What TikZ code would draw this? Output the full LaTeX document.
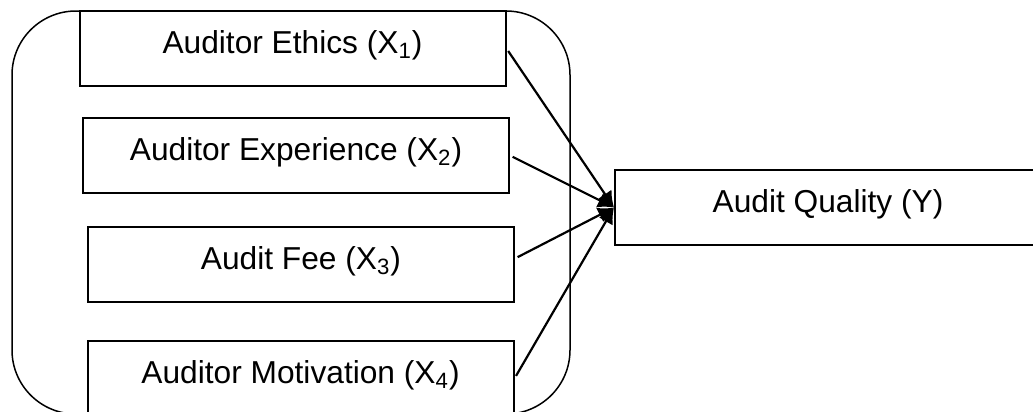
\documentclass[tikz,border=0pt]{standalone}
\usepackage{fontspec}
\setmainfont{Liberation Sans}
\usetikzlibrary{arrows.meta}
\begin{document}
\begin{tikzpicture}[x=0.5pt, y=-0.5pt]
\clip (0,0) rectangle (1033,412);
\useasboundingbox (0,0) rectangle (1033,412);
\draw[line width=0.75pt, rounded corners=32pt] (12,11) rectangle (570,414);
\begin{scope}[every node/.style = {rectangle, draw, line width=1pt, minimum width=213pt, minimum height=37.5pt, inner sep=0pt, font=\fontsize{15.85}{19}\selectfont, text height=11.9pt, text depth=7.1pt}]
\node (x1) at (292.5, 48.5) {Auditor Ethics (X\textsubscript{1})};
\node (x2) at (296, 155.5) {Auditor Experience (X\textsubscript{2})};
\node (x3) at (301, 264.5) {Audit Fee (X\textsubscript{3})};
\node (x4) at (300.5, 378.5) {Auditor Motivation (X\textsubscript{4})};
\node (y) at (828, 207.5) {Audit Quality (Y)};
\end{scope}
\begin{scope}[every edge/.style = {draw, line width=1.1pt, shorten <=1.5pt, -{Latex[length=8pt, width=8pt]}}]
\path (x1.east) edge (y.west);
\path (x2.east) edge (y.west);
\path ([yshift=3pt]x3.east) edge (y.west);
\path (x4.east) edge (y.west);
\end{scope}
\end{tikzpicture}
\end{document}
